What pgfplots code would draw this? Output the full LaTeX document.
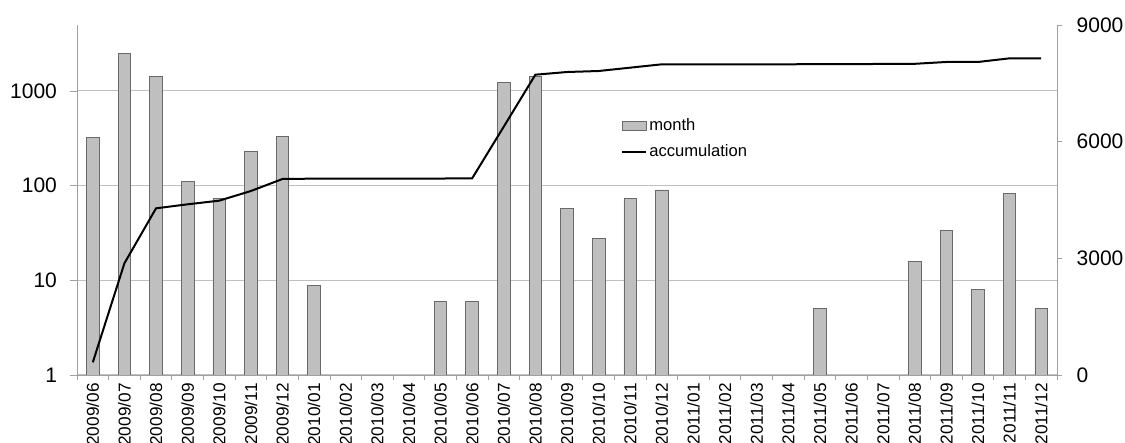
\documentclass[border=0pt]{standalone}
\usepackage{pgfplots}
\pgfplotsset{compat=1.18}
\usepackage{fontspec}
\setmainfont{Liberation Sans}
\definecolor{barfill}{RGB}{191,191,191}
\definecolor{baredge}{RGB}{105,105,105}
\definecolor{gridgray}{RGB}{192,192,192}
\definecolor{axgray}{RGB}{160,160,160}
\begin{document}
\begin{tikzpicture}
\useasboundingbox (-38.5pt,-34pt) rectangle (524pt,187.5pt);
\begin{axis}[
  at={(0,0)}, anchor=south west,
  scale only axis, width=490pt, height=175pt,
  ymode=log, ymin=1, ymax=4977,
  xmin=-0.5, xmax=30.5,
  axis x line*=bottom, axis y line*=left,
  axis line style={draw=axgray},
  every tick/.style={draw=axgray},
  tick align=outside, major tick length=3.5pt,
  ytick={1,10,100,1000}, yticklabels={1,10,100,1000},
  yminorticks=false,
  ymajorgrids, grid style={draw=gridgray, line width=0.5pt},
  yticklabel style={font=\fontsize{10.5}{12}\selectfont, xshift=-3pt},
  xtick={0,...,30},
  xticklabels={2009/06,2009/07,2009/08,2009/09,2009/10,2009/11,2009/12,2010/01,2010/02,2010/03,2010/04,2010/05,2010/06,2010/07,2010/08,2010/09,2010/10,2010/11,2010/12,2011/01,2011/02,2011/03,2011/04,2011/05,2011/06,2011/07,2011/08,2011/09,2011/10,2011/11,2011/12},
  xtick style={draw=none},
  xticklabel style={rotate=90, anchor=east, inner sep=0.5pt, font=\fontsize{8.6}{9}\selectfont},
  ybar, bar width=6.3pt,
]
\addplot[ybar, bar shift=0pt, fill=barfill, draw=baredge, line width=0.4pt] coordinates {
(0,321) (1,2513) (2,1426) (3,110) (4,73.5) (5,228) (6,329) (7,8.9)
(11,6) (12,6) (13,1221) (14,1430) (15,57) (16,27.5) (17,73.5) (18,90)
(23,5) (26,15.7) (27,34) (28,8) (29,83.5) (30,5)
};
\end{axis}
\begin{axis}[
  at={(0,0)}, anchor=south west,
  scale only axis, width=490pt, height=175pt,
  ymin=0, ymax=9000,
  xmin=-0.5, xmax=30.5,
  axis x line*=bottom, axis y line*=right,
  axis line style={draw=axgray},
  every tick/.style={draw=axgray},
  tick align=outside, major tick length=2.5pt,
  xtick={-0.5,0.5,...,30.5}, xticklabels={},
  ytick={0,3000,6000,9000}, yticklabels={0,3000,6000,9000},
  scaled y ticks=false,
  yticklabel style={font=\fontsize{10.5}{12}\selectfont, xshift=3.8pt},
  legend style={at={(0.555,0.74)}, anchor=north west, draw=none, fill=none,
    font=\fontsize{8.3}{10}\selectfont, inner sep=0pt, row sep=3.5pt,
    nodes={inner sep=1pt}},
  legend cell align=left,
]
\addlegendimage{legend image code/.code={\draw[fill=barfill,draw=baredge,line width=0.4pt] (0pt,-2.2pt) rectangle (12pt,2.2pt);}}
\addlegendentry{month}
\addplot[black, line width=1pt, mark=none,
  legend image code/.code={\draw[black,line width=1pt] (0pt,0pt) -- (12pt,0pt);}] coordinates {
(0,326) (1,2872) (2,4286) (3,4389) (4,4483) (5,4731) (6,5040) (7,5049)
(8,5049) (9,5049) (10,5049) (11,5052) (12,5057) (13,6386) (14,7722) (15,7791)
(16,7817) (17,7903) (18,7989) (19,7989) (20,7989) (21,7989) (22,7989) (23,7995)
(24,7995) (25,7998) (26,8002) (27,8049) (28,8049) (29,8143) (30,8143)
};
\addlegendentry{accumulation}
\end{axis}
\end{tikzpicture}
\end{document}
